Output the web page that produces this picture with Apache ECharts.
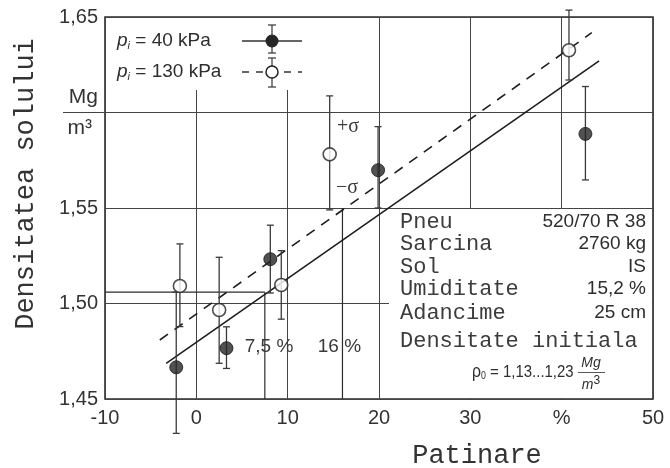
<!DOCTYPE html>
<html>
<head>
<meta charset="utf-8">
<script src="https://cdn.jsdelivr.net/npm/echarts@6/dist/echarts.min.js"></script>
<style>
  html, body { margin: 0; padding: 0; background: #fff; }
  #chart { width: 670px; height: 468px; }
</style>
</head>
<body>
<div id="chart"></div>
<script>
// tick labels
const xTickLabels = ['-10', '0', '10', '20', '30', '%', '50'];
const yTickLabels = ['1,45', '1,50', '1,55', 'UNIT', '1,65'];

// p_i = 40 kPa (filled)
const slip40 = [-2.2, 3.3, 8.1, 19.9, 42.6];
const dens40 = [1.4666, 1.4766, 1.5232, 1.5698, 1.5888];
const low40 = [1.432, 1.466, 1.5055, 1.55, 1.5647];
const high40 = [1.506, 1.4878, 1.541, 1.5926, 1.6136];

// p_i = 130 kPa (hollow)
const slip130 = [-1.8, 2.5, 9.3, 14.6, 40.8];
const dens130 = [1.5092, 1.4966, 1.5097, 1.5781, 1.6326];
const low130 = [1.4879, 1.4687, 1.4918, 1.549, 1.617];
const high130 = [1.5312, 1.5242, 1.5277, 1.6087, 1.6536];

// regression lines
const fit40X = [-3.3, 44.1];
const fit40Y = [1.4687, 1.627];
const fit130X = [-4.0, 43.3];
const fit130Y = [1.4809, 1.6418];

// helper lines (initial density level, 7,5 % and 16 %)
const refLevel = 1.506;
const refSlipA = 7.5;
const refSlipB = 16;

// annotations [x, y, text]
const notes = [
  [15.4, 1.5925, '+σ'],
  [15.3, 1.5606, '−σ'],
  [5.3, 1.4772, '7,5 %'],
  [13.3, 1.4772, '16 %']
];

// info box rows
const boxKeys = ['Pneu', 'Sarcina', 'Sol', 'Umiditate', 'Adancime'];
const boxVals = ['520/70 R 38', '2760 kg', 'IS', '15,2 %', '25 cm'];

const ink = '#2b2b2b';
const chart = echarts.init(document.getElementById('chart'));

const pairs = (xs, ys) => xs.map((x, i) => [x, ys[i]]);
const bars = (xs, lo, hi) => xs.map((x, i) => [x, lo[i], hi[i]]);

function errorBar(params, api) {
  const x = api.value(0);
  const a = api.coord([x, api.value(1)]);
  const b = api.coord([x, api.value(2)]);
  const w = 3.5;
  const st = { stroke: '#3a3a3a', lineWidth: 1.3 };
  return {
    type: 'group',
    children: [
      { type: 'line', shape: { x1: a[0], y1: a[1], x2: b[0], y2: b[1] }, style: st },
      { type: 'line', shape: { x1: a[0] - w, y1: a[1], x2: a[0] + w, y2: a[1] }, style: st },
      { type: 'line', shape: { x1: b[0] - w, y1: b[1], x2: b[0] + w, y2: b[1] }, style: st }
    ]
  };
}

const option = {
  animation: false,
  grid: {
    left: 105, top: 17, width: 548, height: 382,
    show: true, borderColor: ink, borderWidth: 1.6, backgroundColor: 'transparent'
  },
  xAxis: {
    type: 'value', min: -10, max: 50, interval: 10,
    axisLine: { show: false }, axisTick: { show: false },
    splitLine: { show: true, lineStyle: { color: '#444', width: 1 } },
    axisLabel: {
      margin: 9, color: '#333', fontFamily: 'Liberation Sans', fontSize: 20,
      formatter: (v, i) => xTickLabels[i]
    }
  },
  yAxis: {
    type: 'value', min: 1.45, max: 1.65, interval: 0.05,
    axisLine: { show: false }, axisTick: { show: false },
    splitLine: { show: true, lineStyle: { color: '#444', width: 1 } },
    axisLabel: {
      margin: 7, color: '#333', fontFamily: 'Liberation Sans', fontSize: 20,
      formatter: (v, i) => i === 3 ? '{u|Mg}\n{v|m³}' : yTickLabels[i],
      rich: {
        u: { fontSize: 21, lineHeight: 31, fontFamily: 'Liberation Sans', color: '#333' },
        v: { fontSize: 21, lineHeight: 31, fontFamily: 'Liberation Sans', color: '#333', padding: [0, 6, 0, 0] }
      }
    }
  },
  series: [
    {
      type: 'line', data: pairs([-10, refSlipA], [refLevel, refLevel]),
      symbol: 'none', lineStyle: { color: ink, width: 1.3 }, z: 2
    },
    {
      type: 'line', data: pairs([refSlipA, refSlipA], [refLevel, 1.45]),
      symbol: 'none', lineStyle: { color: ink, width: 1.2 }, z: 2
    },
    {
      type: 'line', data: pairs([refSlipB, refSlipB], [1.55, 1.45]),
      symbol: 'none', lineStyle: { color: ink, width: 1.2 }, z: 2
    },
    {
      type: 'line', data: pairs(fit40X, fit40Y),
      symbol: 'none', lineStyle: { color: '#1e1e1e', width: 1.6 }, z: 3
    },
    {
      type: 'line', data: pairs(fit130X, fit130Y),
      symbol: 'none', lineStyle: { color: '#1e1e1e', width: 1.6, type: [10, 8] }, z: 3
    },
    { type: 'custom', data: bars(slip40, low40, high40), renderItem: errorBar, clip: false, z: 4 },
    { type: 'custom', data: bars(slip130, low130, high130), renderItem: errorBar, clip: false, z: 4 },
    {
      type: 'scatter', data: pairs(slip40, dens40), symbol: 'circle', symbolSize: 13,
      itemStyle: { color: '#262626', borderColor: '#1a1a1a', borderWidth: 1 }, z: 5
    },
    {
      type: 'scatter', data: pairs(slip130, dens130), symbol: 'circle', symbolSize: 13,
      itemStyle: { color: '#fff', borderColor: '#222', borderWidth: 1.6 }, z: 5
    }
  ]
};
chart.setOption(option);

const px = (x, y) => chart.convertToPixel({ gridIndex: 0 }, [x, y]);
const topLeft = px(-10, 1.65);
const boxTL = px(20, 1.55);
const bottomRight = px(50, 1.45);
const unitY = px(-10, 1.6)[1];

const txt = (x, y, text, font, extra, more) => Object.assign({
  type: 'text', x: x, y: y, z: 20,
  style: Object.assign({ text: text, fill: '#2e2e2e', font: font, verticalAlign: 'middle' }, extra || {})
}, more || {});

const g = [];
// cover grid lines behind legend and info box
g.push({ type: 'rect', z: 1, shape: { x: topLeft[0] + 1, y: topLeft[1] + 1, width: 265, height: 72 }, style: { fill: '#fff' } });
g.push({ type: 'rect', z: 1, shape: { x: boxTL[0] + 10, y: boxTL[1] + 1, width: bottomRight[0] - boxTL[0] - 11, height: bottomRight[1] - boxTL[1] - 2 }, style: { fill: '#fff' } });
g.push({ type: 'rect', z: 1, shape: { x: boxTL[0] + 1, y: boxTL[1] + 1, width: 10, height: px(0, 1.5)[1] - boxTL[1] - 2 }, style: { fill: '#fff' } });
g.push({ type: 'rect', z: 1, shape: { x: boxTL[0] + 1, y: px(0, 1.5)[1] + 1, width: 10, height: bottomRight[1] - px(0, 1.5)[1] - 2 }, style: { fill: '#fff' } });
// unit fraction bar
g.push({ type: 'line', z: 20, shape: { x1: 63, y1: unitY, x2: topLeft[0], y2: unitY }, style: { stroke: '#444', lineWidth: 1 } });

// legend
const legRows = [41, 72];
const legLabels = ['40', '130'];
legRows.forEach((y, i) => {
  g.push(txt(117, y, '{p|p}{s|i}{t| = ' + legLabels[i] + ' kPa}', null, {
    rich: {
      p: { font: 'italic 19px Liberation Sans', fill: '#2e2e2e' },
      s: { font: 'italic 11px Liberation Sans', fill: '#2e2e2e', padding: [9, 0, 0, 0] },
      t: { font: '19px Liberation Sans', fill: '#2e2e2e' }
    }
  }));
  g.push({ type: 'line', z: 20, shape: { x1: 242, y1: y, x2: 302, y2: y },
    style: { stroke: '#333', lineWidth: 1.4, lineDash: i ? [7, 7] : null } });
});
const legBar = [[25, 53], [58, 87]];
legBar.forEach((b, i) => {
  [[272, b[0], 272, b[1]], [268, b[0], 276, b[0]], [268, b[1], 276, b[1]]].forEach(s => {
    g.push({ type: 'line', z: 20, shape: { x1: s[0], y1: s[1], x2: s[2], y2: s[3] }, style: { stroke: '#333', lineWidth: 1.2 } });
  });
});
g.push({ type: 'circle', z: 21, shape: { cx: 272, cy: legRows[0], r: 6.5 }, style: { fill: '#262626' } });
g.push({ type: 'circle', z: 21, shape: { cx: 272, cy: legRows[1], r: 6 }, style: { fill: '#fff', stroke: '#222', lineWidth: 1.5 } });

// annotations
notes.forEach(n => {
  const p = px(n[0], n[1]);
  const serif = n[2].indexOf('σ') >= 0;
  g.push(txt(p[0], p[1], n[2], serif ? '20px Liberation Serif' : '19px Liberation Sans', { fill: '#3a3a3a' }));
});

// info box text
const rowY = [222, 244, 267, 289, 313];
boxKeys.forEach((k, i) => {
  g.push(txt(400, rowY[i], k, '22px Liberation Mono', { fill: '#3c3c3c' }));
  g.push(txt(646, rowY[i], boxVals[i], '19px Liberation Sans', { fill: '#2e2e2e', align: 'right' }));
});
g.push(txt(400, 341, 'Densitate initiala', '22px Liberation Mono', { fill: '#3c3c3c' }));
g.push(txt(472, 372, '{r|ρ}{s|0}{t| = 1,13...1,23}', null, {
  rich: {
    r: { font: '18px Liberation Sans', fill: '#2e2e2e' },
    s: { font: '10px Liberation Sans', fill: '#2e2e2e', padding: [8, 0, 0, 0] },
    t: { font: '17px Liberation Sans', fill: '#2e2e2e' }
  }
}, { scaleX: 0.88 }));
g.push(txt(591, 363, 'Mg', 'italic 14px Liberation Sans', { align: 'center' }));
g.push({ type: 'line', z: 20, shape: { x1: 578, y1: 372.5, x2: 605, y2: 372.5 }, style: { stroke: '#444', lineWidth: 0.9 } });
g.push(txt(591, 385, '{m|m}{e|3}', null, {
  align: 'center',
  rich: {
    m: { font: 'italic 14px Liberation Sans', fill: '#2e2e2e' },
    e: { font: '12px Liberation Sans', fill: '#2e2e2e', padding: [0, 0, 8, 0] }
  }
}));

// axis titles
g.push({
  type: 'text', x: 26, y: 184, rotation: Math.PI / 2, z: 20,
  style: { text: 'Densitatea solului', font: '27px Liberation Mono', fill: '#333', align: 'center', verticalAlign: 'middle' }
});
g.push(txt(477, 456, 'Patinare', '27px Liberation Mono', { fill: '#333', align: 'center' }));

chart.setOption({ graphic: g });
</script>
</body>
</html>
